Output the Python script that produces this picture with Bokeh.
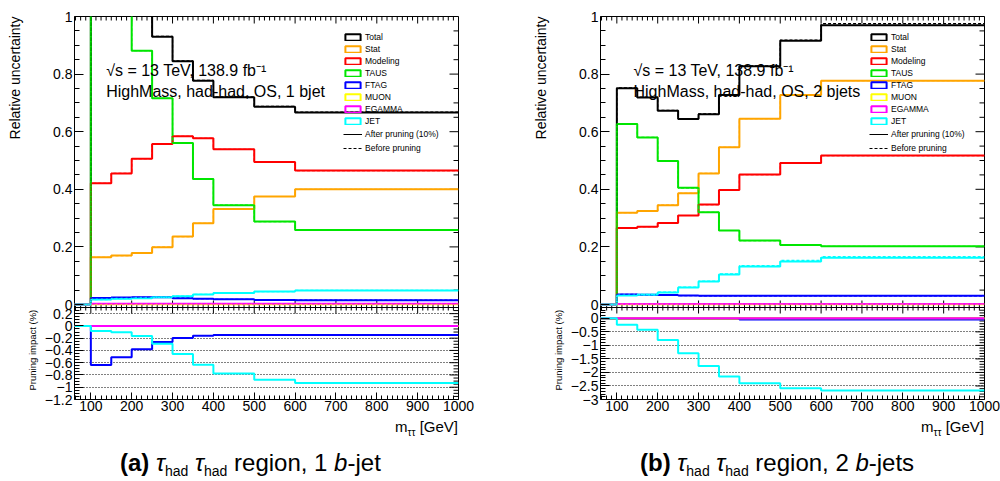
import numpy as np
from bokeh.plotting import figure
from bokeh.models import (Range1d, SingleIntervalTicker, FixedTicker, CustomJSTickFormatter,
                          Label, Legend, LegendItem, Div, Grid, Span, Title, AllLabels)
from bokeh.layouts import row, column
from bokeh.embed import file_html
from bokeh.resources import INLINE

FONT = "Liberation Sans"

# ---------------- data ----------------
edges = [60, 100, 150, 200, 250, 300, 350, 400, 500, 600, 1000]
categories = ["Total", "Stat", "Modeling", "TAUS", "FTAG", "MUON", "EGAMMA", "JET"]
cat_colors = ["#000000", "#ffa500", "#ff0000", "#00e600", "#0000ff", "#ffff00", "#ff00ff", "#00ffff"]

# (a) had-had, 1 b-jet : relative uncertainty (after pruning)
a_total = [0, 1.60, 1.35, 1.10, 0.930, 0.845, 0.777, 0.720, 0.687, 0.667]
a_stat = [0, 0.164, 0.170, 0.179, 0.199, 0.236, 0.282, 0.332, 0.375, 0.400]
a_model = [0, 0.421, 0.455, 0.506, 0.557, 0.584, 0.577, 0.539, 0.495, 0.465]
a_taus = [0, 1.50, 1.20, 0.881, 0.716, 0.561, 0.436, 0.345, 0.288, 0.259]
a_ftag = [0, 0.023, 0.024, 0.025, 0.025, 0.022, 0.020, 0.018, 0.016, 0.015]
a_muon = [0, 0.001, 0.001, 0.001, 0.001, 0.001, 0.001, 0.001, 0.001, 0.001]
a_egamma = [0, 0.003, 0.003, 0.003, 0.003, 0.003, 0.003, 0.003, 0.003, 0.003]
a_jet = [0, 0.017, 0.020, 0.022, 0.025, 0.029, 0.035, 0.040, 0.045, 0.049]
# before pruning (series that differ)
a_total_before = [0, 1.60, 1.35, 1.10, 0.931, 0.846, 0.778, 0.721, 0.688, 0.668]
a_jet_before = [0, 0.017, 0.020, 0.022, 0.025, 0.029, 0.035, 0.040, 0.045, 0.049]
# pruning impact (%)
a_imp_ftag = [0, -0.638, -0.512, -0.380, -0.264, -0.198, -0.160, -0.149, -0.149, -0.149]
a_imp_jet = [0, -0.083, -0.105, -0.165, -0.290, -0.457, -0.633, -0.776, -0.880, -0.930]
a_imp_other = [0, 0, 0, 0, 0, 0, 0, 0, 0, 0]

# (b) had-had, 2 b-jets
b_total = [0, 0.751, 0.719, 0.673, 0.644, 0.661, 0.727, 0.827, 0.916, 0.970]
b_stat = [0, 0.319, 0.325, 0.345, 0.386, 0.455, 0.546, 0.645, 0.727, 0.777]
b_model = [0, 0.266, 0.270, 0.283, 0.309, 0.347, 0.398, 0.451, 0.491, 0.517]
b_taus = [0, 0.627, 0.580, 0.498, 0.405, 0.320, 0.257, 0.222, 0.207, 0.202]
b_ftag = [0, 0.035, 0.034, 0.033, 0.031, 0.030, 0.030, 0.030, 0.030, 0.030]
b_muon = [0, 0.001, 0.001, 0.001, 0.001, 0.001, 0.001, 0.001, 0.001, 0.001]
b_egamma = [0, 0.002, 0.002, 0.002, 0.002, 0.002, 0.002, 0.002, 0.002, 0.002]
b_jet = [0, 0.031, 0.034, 0.042, 0.059, 0.080, 0.104, 0.132, 0.149, 0.162]
b_total_before = [0, 0.752, 0.720, 0.674, 0.645, 0.662, 0.728, 0.829, 0.918, 0.975]
b_jet_before = [0, 0.032, 0.035, 0.043, 0.060, 0.081, 0.106, 0.135, 0.153, 0.166]
b_imp_ftag = [0, 0, 0, 0, 0, 0, 0, -0.04, -0.04, -0.04]
b_imp_jet = [0, -0.234, -0.418, -0.800, -1.290, -1.760, -2.150, -2.400, -2.580, -2.670]
b_imp_other = [0, 0, 0, 0, 0, 0, 0, 0, 0, 0]

# axis settings
x_range = (60, 1000)
a_imp_range = (-1.2, 0.3)
b_imp_range = (-3.0, 0.4)

# ---------------- layout constants (pixels) ----------------
FRAME_TOP, SEP_PX, FRAME_BOT = 16, 307, 399
UP_PX = 288.0            # pixels per unit in the upper pad
BOTTOM_BORDER = 20

fmt_code = """
let v = tick;
if (tick < sep - 1e-9) { v = hi - ((sep - tick) * up) / lp; }
v = Math.round(v * 1000) / 1000;
if (v === 0) return "0";
const s = Math.abs(v).toString();
return v < 0 ? "\\u2212" + s : s;
"""


def steps(p, vals, color, width=2.0, dash="solid", yname="default"):
    ys = list(vals) + [vals[-1]]
    p.step(x=edges, y=ys, mode="after", line_color=color, line_width=width, line_dash=dash,
           y_range_name=yname)


def build(after, before, imp, imp_rng, imp_step, imp_minor, note2, note_x, fig_w, border_r):
    imp_lo, imp_hi = imp_rng
    frame_w = fig_w - 74 - border_r
    xpx = frame_w / (x_range[1] - x_range[0])
    lp = (FRAME_BOT - SEP_PX) / (imp_hi - imp_lo)
    y_start = 1.0 - (FRAME_BOT - FRAME_TOP) / UP_PX
    sep_u = 1.0 - (SEP_PX - FRAME_TOP) / UP_PX
    imp_end = imp_hi + (SEP_PX - FRAME_TOP) / lp

    def to_u(v):
        return sep_u - (imp_hi - v) * lp / UP_PX

    p = figure(width=fig_w, height=FRAME_BOT + BOTTOM_BORDER, x_range=Range1d(*x_range),
               y_range=Range1d(y_start, 1.0), output_backend="svg", toolbar_location=None,
               min_border_left=74, min_border_right=border_r, min_border_top=FRAME_TOP,
               min_border_bottom=BOTTOM_BORDER)
    p.extra_y_ranges = {"imp": Range1d(imp_lo, imp_end)}
    p.outline_line_color = "black"
    p.outline_line_width = 1
    p.background_fill_color = "white"
    p.border_fill_color = "white"
    for g in p.grid:
        g.visible = False

    # ---- tick positions ----
    up_major = [round(0.2 * i, 3) for i in range(6)]
    up_minor = [round(0.05 * i, 3) for i in range(21) if i % 4]
    lo_major = [round(v, 3) for v in np.arange(imp_lo, imp_hi + 1e-9, imp_step)]
    lo_minor = [round(v, 3) for v in np.arange(imp_lo, imp_hi + 1e-9, imp_minor)
                if min(abs(v - m) for m in lo_major) > 1e-6]
    x_major = list(range(100, 1001, 100))
    x_minor = [v for v in np.arange(62.5, 1000, 12.5) if v % 100]

    # left axis (shared by both pads)
    ya = p.yaxis[0]
    ya.ticker = FixedTicker(ticks=up_major + [to_u(v) for v in lo_major],
                            minor_ticks=up_minor + [to_u(v) for v in lo_minor])
    ya.formatter = CustomJSTickFormatter(args=dict(sep=sep_u, hi=imp_hi, lp=lp, up=UP_PX), code=fmt_code)
    ya.major_label_policy = AllLabels()
    xa = p.xaxis[0]
    xa.ticker = SingleIntervalTicker(interval=100, num_minor_ticks=8)
    for ax, mj, mn in ((ya, 9, 5), (xa, 7, 4)):
        ax.axis_line_color = None
        ax.major_tick_in = mj
        ax.major_tick_out = 0
        ax.minor_tick_in = mn
        ax.minor_tick_out = 0
        ax.major_tick_line_color = "black"
        ax.minor_tick_line_color = "black"
        ax.major_label_text_font = FONT
        ax.major_label_text_font_size = "14px"
        ax.major_label_text_color = "black"
    ya.major_label_standoff = 2
    xa.major_label_standoff = 1

    # dotted grid in the lower pad
    p.add_layout(Grid(dimension=1, ticker=FixedTicker(ticks=[to_u(v) for v in lo_major]),
                      grid_line_color="black", grid_line_dash="1 2", grid_line_width=1))
    # separator between pads
    p.add_layout(Span(location=sep_u, dimension="width", line_color="black", line_width=1))

    # mirrored tick marks (top, right, and both sides of the pad separator)
    def xticks(xs, y0, length_px):
        p.segment(x0=xs, y0=[y0] * len(xs), x1=xs, y1=[y0 + length_px / UP_PX] * len(xs),
                  line_color="black", line_width=1)

    xticks(x_major, 1.0, -7)
    xticks(x_minor, 1.0, -4)
    xticks(x_major, sep_u, 7)
    xticks(x_minor, sep_u, 4)
    xticks(x_major, sep_u, -6)
    xticks(x_minor, sep_u, -3)
    r_major = up_major + [to_u(v) for v in lo_major]
    r_minor = up_minor + [to_u(v) for v in lo_minor]
    for ys, L in ((r_major, 9), (r_minor, 5)):
        p.segment(x0=[x_range[1]] * len(ys), y0=ys, x1=[x_range[1] - L / xpx] * len(ys), y1=ys,
                  line_color="black", line_width=1)

    # ---- histograms ----
    for c, col in zip(categories, cat_colors):
        steps(p, after[c], col, 2.0)
    for c, col in zip(categories, cat_colors):
        steps(p, before[c], col, 1.2, "3 2")
    for c, col in zip(categories, cat_colors):
        steps(p, imp[c], col, 2.0, yname="imp")

    # ---- legend ----
    nan = [float("nan")]
    box_items = []
    for c, col in zip(categories, cat_colors):
        r = p.quad(left=nan, right=nan, top=nan, bottom=nan, fill_color=None, line_color=col, line_width=2)
        box_items.append(LegendItem(label=c, renderers=[r]))
    r1 = p.line(x=nan, y=nan, line_color="black", line_width=1)
    r2 = p.line(x=nan, y=nan, line_color="black", line_width=1, line_dash="3 2")
    fh = FRAME_BOT - FRAME_TOP
    leg1 = Legend(items=box_items, location=(269, fh - (126 - FRAME_TOP)))
    leg2 = Legend(items=[LegendItem(label="After pruning (10%)", renderers=[r1]),
                         LegendItem(label="Before pruning", renderers=[r2])],
                  location=(269, fh - (153 - FRAME_TOP)))
    for leg, gh, sp in ((leg1, 8, 2), (leg2, 8, 4)):
        leg.border_line_color = None
        leg.background_fill_alpha = 0
        leg.padding = 0
        leg.margin = 0
        leg.glyph_width = 19
        leg.glyph_height = gh
        leg.label_height = 8
        leg.spacing = sp
        leg.label_standoff = 3
        leg.label_text_font = FONT
        leg.label_text_font_size = "8.5px"
        leg.label_text_color = "black"
        p.add_layout(leg)

    # ---- texts ----
    p.add_layout(Label(x=note_x, y=0.8125, text="√s = 13 TeV, 138.9 fb⁻¹", text_font=FONT,
                       text_font_size="16px", text_baseline="middle", text_color="black"))
    p.add_layout(Label(x=note_x, y=0.74, text=note2, text_font=FONT,
                       text_font_size="16px", text_baseline="middle", text_color="black"))
    p.add_layout(Title(text="Pruning impact (%)", align="left", offset=FRAME_BOT - 390,
                       vertical_align="middle", standoff=6, text_font=FONT, text_font_size="9.5px",
                       text_font_style="normal", text_color="black"), "left")
    p.add_layout(Title(text="Relative uncertainty", align="right", offset=0,
                       vertical_align="bottom", standoff=0, text_font=FONT, text_font_size="14px",
                       text_font_style="normal", text_color="black"), "left")
    return p


def xtitle_div(w, pad_r):
    html = ('<div style="width:%dpx;text-align:right;box-sizing:border-box;padding-right:%dpx;'
            'font-family:\'Liberation Sans\',Arial,sans-serif;font-size:15px;line-height:16px;'
            'color:black;white-space:nowrap;">m<span style="font-size:10px;position:relative;top:4px;">'
            'ττ</span> [GeV]</div>') % (w, pad_r)
    return Div(text=html, width=w, height=18, margin=(0, 0, 0, 0))


def caption_div(w, pad_l, tag, rest):
    sub = '<span style="font-size:14px;position:relative;top:5px;">had</span>'
    html = ('<div style="width:%dpx;box-sizing:border-box;padding-left:%dpx;padding-top:8px;'
            'font-family:\'Liberation Sans\',Arial,sans-serif;font-size:24px;line-height:36px;'
            'color:black;white-space:nowrap;"><b>(%s)</b> <i>τ</i>%s <i>τ</i>%s %s</div>') % (
        w, pad_l, tag, sub, sub, rest)
    return Div(text=html, width=w, height=44, margin=(0, 0, 0, 0))


a_after = dict(zip(categories, [a_total, a_stat, a_model, a_taus, a_ftag, a_muon, a_egamma, a_jet]))
a_before = dict(zip(categories, [a_total_before, a_stat, a_model, a_taus, a_ftag, a_muon, a_egamma, a_jet_before]))
a_imp = dict(zip(categories, [a_imp_other, a_imp_other, a_imp_other, a_imp_other, a_imp_ftag,
                              a_imp_other, a_imp_other, a_imp_jet]))
b_after = dict(zip(categories, [b_total, b_stat, b_model, b_taus, b_ftag, b_muon, b_egamma, b_jet]))
b_before = dict(zip(categories, [b_total_before, b_stat, b_model, b_taus, b_ftag, b_muon, b_egamma, b_jet_before]))
b_imp = dict(zip(categories, [b_imp_other, b_imp_other, b_imp_other, b_imp_other, b_imp_ftag,
                              b_imp_other, b_imp_other, b_imp_jet]))

WA, WB = 526, 474
pa = build(a_after, a_before, a_imp, a_imp_range, 0.2, 0.05,
           "HighMass, had-had, OS, 1 bjet", 137.6, WA, WA - 458)
pb = build(b_after, b_before, b_imp, b_imp_range, 0.5, 0.1,
           "HighMass, had-had, OS, 2 bjets", 140.8, WB, 16)

col_a = column(pa, xtitle_div(WA, WA - 458), caption_div(WA, 120, "a", 'region, 1 <i>b</i>-jet'), spacing=0)
col_b = column(pb, xtitle_div(WB, 16), caption_div(WB, 114, "b", 'region, 2 <i>b</i>-jets'), spacing=0)
layout = row(col_a, col_b, spacing=0)

open("out.html", "w").write(file_html(layout, INLINE))
